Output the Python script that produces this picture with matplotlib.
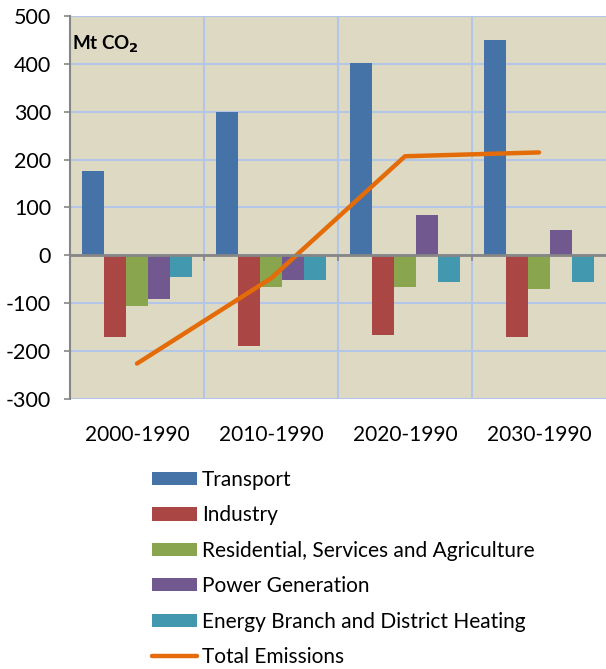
import matplotlib.pyplot as plt
import numpy as np

# Change in CO2 emissions by sector relative to 1990
periods = ["2000-1990", "2010-1990", "2020-1990", "2030-1990"]
transport = [177, 300, 401, 450]
industry = [-170, -189, -167, -170]
residential = [-106, -67, -67, -70]
power = [-92, -52, 84, 54]
energy = [-45, -52, -56, -56]
total = [-226, -48, 207, 215]

sectors = [
    ("Transport", transport, "#4572a7"),
    ("Industry", industry, "#aa4643"),
    ("Residential, Services and Agriculture", residential, "#89a54e"),
    ("Power Generation", power, "#71588f"),
    ("Energy Branch and District Heating", energy, "#4198af"),
]

plt.rcParams['font.family'] = ['Lato', 'DejaVu Sans']
plt.rcParams['axes.unicode_minus'] = False

fig = plt.figure(figsize=(6.06, 6.69), dpi=100)
ax = fig.add_axes([0.1155, 0.4036, 0.8845, 0.5725])
ax.set_facecolor("#ddd9c3")

x = np.arange(len(periods))
w = 0.164
for i, (name, vals, col) in enumerate(sectors):
    ax.bar(x + (i - 2) * w, vals, width=w, color=col, label=name, zorder=3)

ax.plot(x, total, color="#e36c09", lw=3.2, solid_capstyle='round',
        label="Total Emissions", zorder=4)

ax.set_xlim(-0.5, 3.5)
ax.set_ylim(-300, 500)
ax.set_yticks(range(-300, 501, 100))
ax.set_xticks(x)
ax.set_xticklabels(periods, fontsize=15)
ax.set_xticks(x[:-1] + 0.5, minor=True)
ax.tick_params(axis='x', which='both', length=0, pad=19)
ax.tick_params(axis='y', labelsize=15.5, length=4.5, width=1.2, color="#868686", pad=9)

ax.grid(True, axis='y', color="#b4c6e7", lw=1.5, zorder=0)
ax.grid(True, axis='x', which='minor', color="#b4c6e7", lw=1.5, zorder=0)

ax.axhline(0, color="#868686", lw=2, zorder=5)
ax.vlines(x[:-1] + 0.5, -12, 0, color="#868686", lw=1.2, zorder=5)

for s in ["top", "right", "bottom"]:
    ax.spines[s].set_visible(False)
ax.spines["left"].set_color("#868686")
ax.spines["left"].set_linewidth(1.5)

ax.text(0.003, 0.955, r"Mt CO$_{\mathbf{2}}$", transform=ax.transAxes,
        fontsize=13.5, fontweight='bold', va='top', ha='left')

handles, labels = ax.get_legend_handles_labels()
order = [1, 2, 3, 4, 5, 0]
fig.legend([handles[i] for i in order], [labels[i] for i in order],
           loc='upper left', bbox_to_anchor=(0.237, 0.31), frameon=False,
           fontsize=15, handlelength=2.15, handleheight=0.6,
           handletextpad=0.25, labelspacing=0.74, borderaxespad=0)

fig.savefig("out.png", dpi=100)
